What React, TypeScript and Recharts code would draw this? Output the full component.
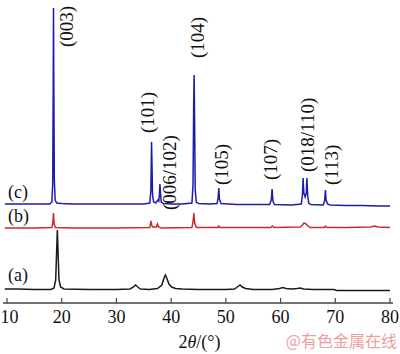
import React from 'react';
import { LineChart, Line, XAxis, YAxis, ReferenceDot } from 'recharts';

const FONT = "'Liberation Serif', 'DejaVu Serif', serif";

// x axis
const xTicks = [10, 20, 30, 40, 50, 60, 70, 80];
const xDomain: [number, number] = [9.27, 80.55];
const yDomain: [number, number] = [0, 302];

// vertical offsets of the stacked patterns (a.u.)
const offsetA = 13;
const offsetB = 75;
const offsetC = 98;

// (a) pattern
const thetaA = [9.6, 12, 15, 18, 18.6, 18.9, 19.05, 19.2, 19.32, 19.5, 19.8, 20.4, 25, 30, 32.5, 33.1, 33.5, 33.9, 34.4, 36, 37.5, 38.3, 38.7, 38.95, 39.2, 39.6, 40.1, 40.8, 42, 45, 50, 51.6, 52.2, 52.6, 53.0, 53.6, 55, 58.5, 59.8, 60.4, 61.0, 62, 63.0, 63.6, 64.2, 66, 69.8, 70.2, 75, 80];
const intA = [1, 1, 0.5, 0.5, 2, 10, 35, 60, 40, 10, 3, 1, 0.5, 0.5, 1, 3, 5, 3, 1, 0.5, 1.5, 5, 12, 15, 12, 6, 3, 1.5, 1, 0.5, 0.5, 1, 3.5, 5, 3, 1.5, 0.5, 0.5, 1.5, 2.5, 1.5, 1, 1.5, 2, 1, 0.5, 0.5, -0.5, -0.5, -0.5];

// (b) pattern
const thetaB = [9.6, 15, 18.2, 18.38, 18.5, 18.62, 18.85, 22, 30, 36.1, 36.3, 36.45, 36.6, 37.3, 37.5, 37.7, 38.2, 43.8, 44.0, 44.15, 44.3, 44.6, 48.5, 48.7, 48.9, 58.2, 58.5, 58.8, 63.6, 64.0, 64.3, 64.7, 65.0, 65.4, 68.0, 68.2, 68.5, 72, 76.5, 77.2, 77.8, 80];
const intB = [0, 0, 0.5, 5, 15, 4, 0.5, 0, 0, 0.5, 7, 3, 1, 1, 4, 1, 0, 0.5, 6, 15, 5, 0.5, 0.5, 2, 0.5, 0.5, 2, 0.5, 1, 3, 5, 4, 2, 0.5, 0.5, 2, 0.5, 0.5, 1, 2, 1, 0.5];

// (c) pattern
const thetaC = [9.6, 12, 15, 17.8, 18.2, 18.35, 18.45, 18.5, 18.55, 18.65, 18.8, 19.1, 20, 22, 25, 30, 33, 35, 36.1, 36.3, 36.42, 36.5, 36.6, 36.8, 37.2, 37.45, 37.6, 37.75, 37.85, 37.95, 38.05, 38.2, 38.6, 40, 42, 43.8, 44.0, 44.12, 44.2, 44.28, 44.4, 44.6, 45, 47, 48.4, 48.6, 48.72, 48.82, 49.1, 52, 55, 58.0, 58.3, 58.45, 58.6, 58.9, 62, 63.8, 64.0, 64.12, 64.25, 64.5, 64.7, 64.82, 64.95, 65.15, 65.5, 67.8, 68.05, 68.2, 68.32, 68.6, 69, 72, 75, 78, 80];
const intC = [1, 1, 1, 1, 3, 20, 120, 197, 130, 25, 5, 2, 1.5, 1, 1, 1, 1, 1, 2, 15, 63, 40, 10, 3, 2, 4, 5, 4, 10, 21, 12, 3, 1.5, 1, 1, 2, 20, 100, 130, 90, 15, 3, 1.5, 1, 1.5, 8, 17, 6, 1.5, 0.5, 0.5, 0.5, 5, 16, 4, 0.5, 0, 1, 10, 27, 12, 8, 12, 27, 10, 2, 0.5, 0, 4, 15, 5, 1, 0, -0.5, -0.5, -1, -1];

// annotations
const seriesLabels = ['(a)', '(b)', '(c)'];
const seriesLabelTheta = [10.18, 10.18, 10.18];
const seriesLabelY = [22, 81, 105];

const peakLabels = ['(003)', '(101)', '(006/102)', '(104)', '(105)', '(107)', '(018/110)', '(113)'];
const peakLabelTheta = [20.97, 35.77, 39.79, 44.91, 49.3, 58.25, 64.93, 69.4];
const peakLabelY = [256, 170, 93, 245, 118, 123, 131, 118];

const build = (xs: number[], ys: number[], off: number) => xs.map((x, i) => ({ x, y: ys[i] + off }));
const dataA = build(thetaA, intA, offsetA);
const dataB = build(thetaB, intB, offsetB);
const dataC = build(thetaC, intC, offsetC);

const FRAME = '#444';

const XTick = (props: any) => {
  const { x, y, payload } = props;
  const label = String(payload.value);
  const half = label.length * 4.5;
  const cx = Math.max(x, half + 0.5);
  return (
    <text x={cx} y={y} dy="0.71em" textAnchor="middle" fontSize={18} fontFamily={FONT} fill="#111">
      {label}
    </text>
  );
};

export default function App() {
  return (
    <div style={{ position: 'absolute', left: 0, top: 0, width: 400, height: 354, background: '#fff' }}>
      <LineChart width={400} height={354} margin={{ top: 1, right: 7, bottom: 0, left: 3 }}>
        <XAxis
          xAxisId="b"
          type="number"
          dataKey="x"
          domain={xDomain}
          ticks={xTicks}
          interval={0}
          allowDataOverflow
          height={51}
          tickSize={-5}
          tickMargin={12}
          axisLine={{ stroke: FRAME, strokeWidth: 1.6 }}
          tickLine={{ stroke: FRAME, strokeWidth: 1.2 }}
          tick={<XTick />}
          label={{
            content: (props: any) => {
              const vb = props.viewBox || {};
              return (
                <text
                  x={vb.x + vb.width / 2 + 1.5}
                  y={vb.y + 44.5}
                  textAnchor="middle"
                  fontSize={18}
                  fontFamily={FONT}
                  fill="#111"
                >
                  2<tspan fontStyle="italic">θ</tspan>/(°)
                </text>
              );
            },
          }}
        />
        <XAxis
          xAxisId="t"
          orientation="top"
          type="number"
          dataKey="x"
          domain={xDomain}
          allowDataOverflow
          height={0}
          tick={false}
          tickLine={false}
          axisLine={{ stroke: FRAME, strokeWidth: 1.6 }}
        />
        <YAxis
          yAxisId="l"
          type="number"
          domain={yDomain}
          allowDataOverflow
          width={0}
          tick={false}
          tickLine={false}
          axisLine={{ stroke: FRAME, strokeWidth: 1.8 }}
        />
        <YAxis
          yAxisId="r"
          orientation="right"
          type="number"
          domain={yDomain}
          allowDataOverflow
          width={0}
          tick={false}
          tickLine={false}
          axisLine={{ stroke: FRAME, strokeWidth: 1.8 }}
        />
        <Line xAxisId="b" yAxisId="l" data={dataA} dataKey="y" type="linear" stroke="#1a1a1a" strokeWidth={1.5} dot={false} isAnimationActive={false} />
        <Line xAxisId="b" yAxisId="l" data={dataB} dataKey="y" type="linear" stroke="#cc2a2a" strokeWidth={1.5} dot={false} isAnimationActive={false} />
        <Line xAxisId="b" yAxisId="l" data={dataC} dataKey="y" type="linear" stroke="#1c1cac" strokeWidth={1.5} dot={false} isAnimationActive={false} />
        {seriesLabels.map((s, i) => (
          <ReferenceDot
            key={s}
            xAxisId="b"
            yAxisId="l"
            x={seriesLabelTheta[i]}
            y={seriesLabelY[i]}
            r={0}
            ifOverflow="visible"
            shape={(p: any) => (
              <text x={p.cx} y={p.cy} fontSize={18} fontFamily={FONT} fill="#111" textAnchor="start">
                {s}
              </text>
            )}
          />
        ))}
        {peakLabels.map((s, i) => (
          <ReferenceDot
            key={s}
            xAxisId="b"
            yAxisId="l"
            x={peakLabelTheta[i]}
            y={peakLabelY[i]}
            r={0}
            ifOverflow="visible"
            shape={(p: any) => (
              <text
                x={p.cx}
                y={p.cy}
                dy="0.33em"
                transform={`rotate(-90 ${p.cx} ${p.cy})`}
                fontSize={19}
                fontFamily={FONT}
                fill="#111"
                textAnchor="start"
              >
                {s}
              </text>
            )}
          />
        ))}
        <text x={397} y={347} textAnchor="end" fontSize={16} fontFamily="'Noto Sans CJK SC', sans-serif" fill="#ee9e9e">
          @有色金属在线
        </text>
      </LineChart>
    </div>
  );
}
